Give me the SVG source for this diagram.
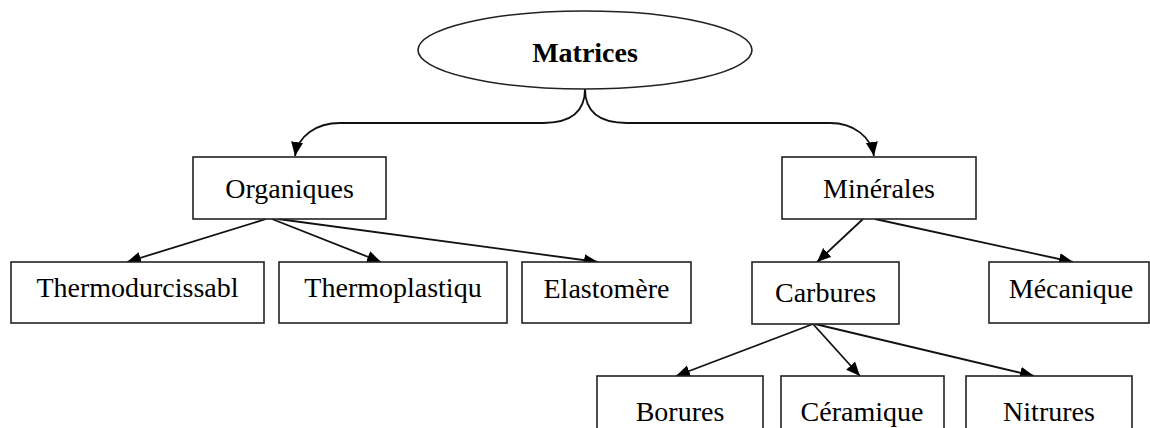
<svg xmlns="http://www.w3.org/2000/svg" width="1150" height="428" viewBox="0 0 1150 428">
<style>
.box{fill:#fff;stroke:#222;stroke-width:1.6}
.t{font-family:"Liberation Serif","Times New Roman",serif;font-size:28px;fill:#000;text-anchor:middle}
.b{font-weight:bold}
.c{fill:none;stroke:#111;stroke-width:1.8}
</style>
<defs>
<marker id="ah" markerUnits="userSpaceOnUse" markerWidth="16" markerHeight="14" refX="14" refY="6" orient="auto">
<path d="M0,0 L14,6 L0,12 Z" fill="#000"/>
</marker>
</defs>
<rect width="1150" height="428" fill="#fff"/>
<g id="connectors">
<path class="c" d="M585,89 C585,111 571,123 543,123 L340,123 C316,123 298,136 295,156" marker-end="url(#ah)"/>
<path class="c" d="M585,89 C585,111 599,123 627,123 L830,123 C854,123 871,137 874,156" marker-end="url(#ah)"/>
<line class="c" x1="266" y1="219" x2="127" y2="262" marker-end="url(#ah)"/>
<line class="c" x1="272" y1="219" x2="381" y2="262" marker-end="url(#ah)"/>
<line class="c" x1="278" y1="219" x2="598" y2="262" marker-end="url(#ah)"/>
<line class="c" x1="863" y1="219" x2="817" y2="262" marker-end="url(#ah)"/>
<line class="c" x1="875" y1="219" x2="1073" y2="262" marker-end="url(#ah)"/>
<line class="c" x1="813" y1="324" x2="676" y2="376" marker-end="url(#ah)"/>
<line class="c" x1="813" y1="324" x2="860" y2="376" marker-end="url(#ah)"/>
<line class="c" x1="815" y1="324" x2="1034" y2="376" marker-end="url(#ah)"/>
</g>
<g id="matrices">
<ellipse class="box" cx="585" cy="50" rx="167" ry="39"/>
<text class="t b" x="585" y="62">Matrices</text>
</g>
<g id="organiques">
<rect class="box" x="193" y="157" width="193" height="62"/>
<text class="t" x="289.5" y="198">Organiques</text>
</g>
<g id="minerales">
<rect class="box" x="782" y="157" width="194" height="62"/>
<text class="t" x="879" y="198">Minérales</text>
</g>
<g id="thermodurcissabl">
<rect class="box" x="11" y="262" width="253" height="61"/>
<text class="t" x="137.5" y="297">Thermodurcissabl</text>
</g>
<g id="thermoplastiqu">
<rect class="box" x="279" y="262" width="228" height="61"/>
<text class="t" x="393" y="297">Thermoplastiqu</text>
</g>
<g id="elastomere">
<rect class="box" x="522" y="262" width="169" height="61"/>
<text class="t" x="606.5" y="298">Elastomère</text>
</g>
<g id="carbures">
<rect class="box" x="752" y="262" width="147" height="62"/>
<text class="t" x="825.5" y="302">Carbures</text>
</g>
<g id="mecanique">
<rect class="box" x="989" y="262" width="160" height="61"/>
<text class="t" x="1071" y="298">Mécanique</text>
</g>
<g id="borures">
<rect class="box" x="597" y="376" width="166" height="70"/>
<text class="t" x="680" y="421">Borures</text>
</g>
<g id="ceramique">
<rect class="box" x="781" y="376" width="163" height="70"/>
<text class="t" x="862" y="421">Céramique</text>
</g>
<g id="nitrures">
<rect class="box" x="966" y="376" width="166" height="70"/>
<text class="t" x="1049" y="421">Nitrures</text>
</g>
</svg>
